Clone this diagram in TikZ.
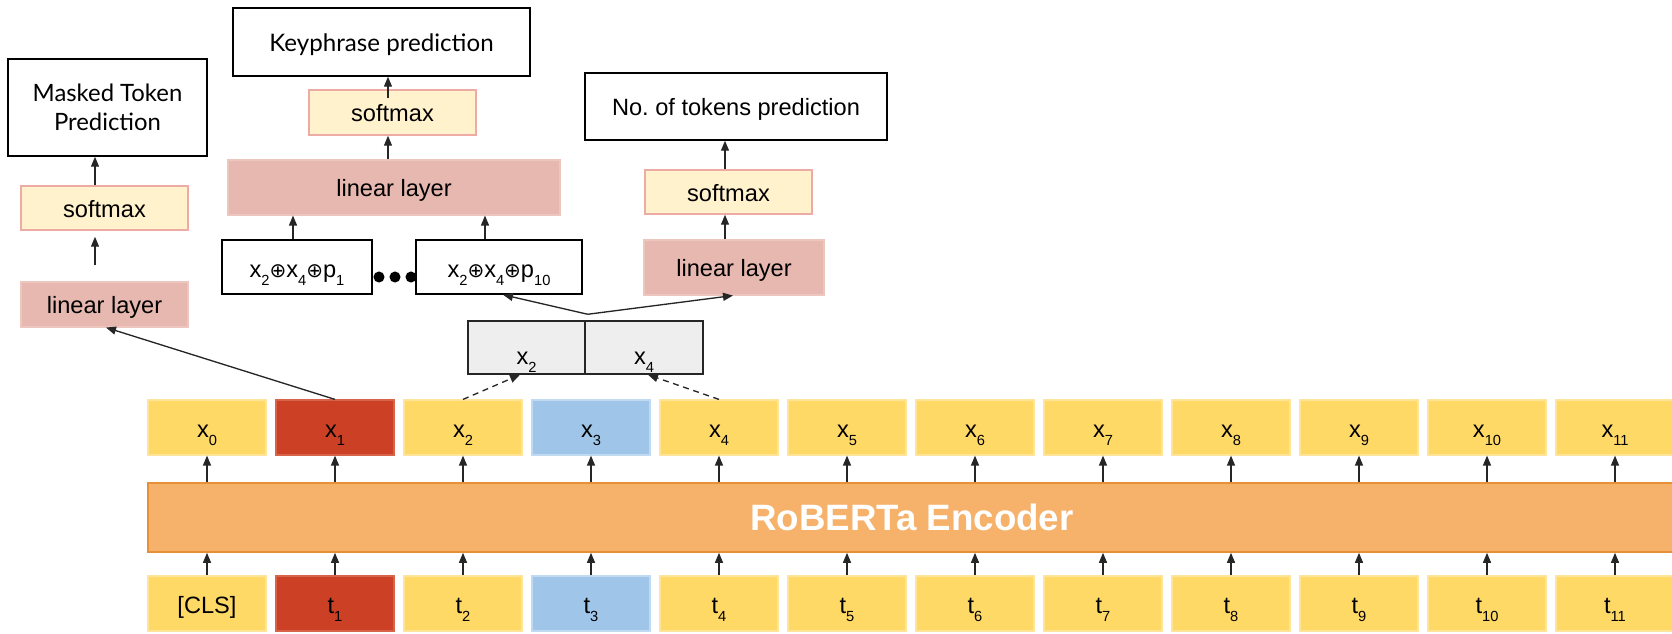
\documentclass[tikz,border=0pt]{standalone}
\usepackage{fontspec}
\setmainfont{Liberation Sans}
\newfontfamily\latofont{Lato}
\newfontfamily\dejavufont{DejaVu Sans}
\usetikzlibrary{arrows.meta,calc}

\definecolor{tokY}{HTML}{FFD966}
\definecolor{tokYb}{HTML}{FFE599}
\definecolor{tokR}{HTML}{CC4125}
\definecolor{tokRb}{HTML}{D9634A}
\definecolor{tokB}{HTML}{9FC5E8}
\definecolor{tokBb}{HTML}{C2DAF0}
\definecolor{encF}{HTML}{F6B26B}
\definecolor{encB}{HTML}{E69138}
\definecolor{linF}{HTML}{E6B8AF}
\definecolor{linB}{HTML}{EDC6BF}
\definecolor{smF}{HTML}{FFF2CC}
\definecolor{smB}{HTML}{EDABA3}
\definecolor{cellF}{HTML}{EEEEEE}

% subscript that sits below the baseline
\newcommand\lowsub[1]{\raisebox{-6.5pt}{\fontsize{11pt}{11pt}\selectfont #1}}
% circled plus
\newcommand\cplus{{\dejavufont\fontsize{15pt}{15pt}\selectfont ⊕}}

\begin{document}
\begin{tikzpicture}[x=0.75pt,y=-0.75pt,
  font=\fontsize{17.7pt}{21pt}\selectfont,
  % a box given by its left, top, right and bottom edges (in px)
  span/.style n args={4}{minimum width={((#3)-(#1))*0.75pt},
    minimum height={((#4)-(#2))*0.75pt},
    at={({((#1)+(#3))/2},{((#2)+(#4))/2})}},
  lbl/.style={inner sep=0pt, text height=13.5pt, text depth=0pt},
  outbox/.style={draw=black, line width=1.1pt, inner sep=0pt},
  smbox/.style={lbl, fill=smF, draw=smB, line width=1.1pt},
  linbox/.style={lbl, fill=linF, draw=linB, line width=0.8pt},
  tok/.style={inner sep=0pt, line width=0.9pt, text height=14.25pt, text depth=0pt},
  tky/.style={tok, fill=tokY, draw=tokYb},
  tkr/.style={tok, fill=tokR, draw=tokRb},
  tkb/.style={tok, fill=tokB, draw=tokBb},
  sumbox/.style={draw=black, line width=1.1pt, inner sep=0pt, text height=15pt, text depth=0pt},
  cell/.style={draw=black!85, fill=cellF, line width=1.1pt, inner sep=0pt, text height=24.75pt, text depth=0pt},
  enc/.style={fill=encF, draw=encB, line width=1.2pt, inner sep=0pt, text=white,
    font=\fontsize{27.5pt}{30pt}\selectfont\bfseries},
  dotn/.style={circle, fill=black, inner sep=0pt, minimum size=8.3pt},
  arr/.style={-{Triangle[length=7.5pt,width=6pt]}, line width=1pt, black!85},
  darr/.style={arr, dash pattern=on 4.5pt off 3.5pt}
]
\useasboundingbox (0,0) rectangle (1672,633);
\clip (0,0) rectangle (1672,633);

% ---- encoder ----
\node[enc, span={148}{483}{1676}{552}] (enc) {RoBERTa Encoder};

% ---- token rows: outputs x_i above, inputs t_i below ----
\foreach \i/\c in {0/tky,1/tkr,2/tky,3/tkb,4/tky,5/tky,6/tky,7/tky,8/tky,9/tky,10/tky,11/tky}{
  \pgfmathsetmacro\L{148+128*\i}
  \pgfmathsetmacro\R{\L+118}
  \node[\c, span={\L}{400}{\R}{455}] (x\i) {x\lowsub{\i}};
  \ifnum\i=0
    \node[\c, span={\L}{576}{\R}{631}] (t\i) {[CLS]};
  \else
    \node[\c, span={\L}{576}{\R}{631}] (t\i) {t\lowsub{\i}};
  \fi
}
\foreach \i in {0,...,11}{
  \draw[arr] (t\i.north) -- (t\i.north |- enc.south);
  \draw[arr] (x\i.south |- enc.north) -- (x\i.south);
}

% ---- masked token head ----
\node[outbox, span={8}{59}{207}{156}, align=center,
  font=\latofont\fontsize{17.9pt}{21.75pt}\selectfont] (mtp) {Masked Token\\Prediction};
\node[smbox, span={21}{186}{188}{230}] (smA) {softmax};
\node[linbox, span={21}{282}{188}{327}] (linA) {linear layer};
\draw[arr] ($(linA.north)+(-9.5,-16)$) -- ($(smA.south)+(-9.5,6)$);
\coordinate (a1) at ($(smA.north)+(-9.5,0)$);
\draw[arr] (a1) -- (a1 |- mtp.south);
\draw[arr] (x1.north) -- ($(linA.south)+(1.5,0)$);

% ---- keyphrase head ----
\node[outbox, lbl, span={233}{8}{530}{76},
  font=\latofont\fontsize{18.1pt}{21pt}\selectfont] (kp) {Keyphrase prediction};
\node[smbox, span={309}{90}{476}{135}] (smB) {softmax};
\node[linbox, span={228}{160}{560}{215}] (linB) {linear layer};
\node[sumbox, span={222}{240}{372}{294}] (p1) {x\lowsub{2}\cplus x\lowsub{4}\cplus p\lowsub{1}};
\node[sumbox, span={416}{240}{582}{294}] (p10) {x\lowsub{2}\cplus x\lowsub{4}\cplus p\lowsub{10}};
\node[dotn] (d1) at (379,277) {};
\node[dotn] (d2) at (395,277) {};
\node[dotn] (d3) at (411,277) {};
\coordinate (b1) at ($(smB.north)+(-4.5,9)$);
\draw[arr] (b1) -- (b1 |- kp.south);
\coordinate (b2) at ($(smB.south)+(-4.5,0)$);
\draw[arr] (b2 |- linB.north) -- (b2);
\coordinate (b3) at ($(p1.north)+(-4,0)$);
\draw[arr] (b3) -- (b3 |- linB.south);
\coordinate (b4) at ($(p10.north)+(-14,0)$);
\draw[arr] (b4) -- (b4 |- linB.south);

% ---- number of tokens head ----
\node[outbox, lbl, span={585}{73}{887}{140}] (ntok) {No.\ of tokens prediction};
\node[smbox, span={645}{170}{812}{214}] (smC) {softmax};
\node[linbox, span={644}{240}{824}{295}] (linC) {linear layer};
\coordinate (c1) at ($(smC.north)+(-3.5,0)$);
\draw[arr] (c1) -- (c1 |- ntok.south);
\coordinate (c2) at ($(smC.south)+(-3.5,0)$);
\draw[arr] (c2 |- linC.north) -- (c2);

% ---- pooled span representation ----
\node[cell, span={468}{321}{585}{374}] (gx2) {x\lowsub{2}};
\node[cell, span={585}{321}{703}{374}] (gx4) {x\lowsub{4}};
\coordinate (J) at ($(gx2.north east)+(2,-6)$);
\draw[arr] (J) -- ($(p10.south)+(4,0)$);
\draw[arr] (J) -- ($(linC.south)+(-1,0)$);
\draw[darr] (x2.north) -- ($(gx2.south)+(-6.5,0)$);
\draw[darr] (x4.north) -- ($(gx4.south)+(4,0)$);
\end{tikzpicture}
\end{document}
